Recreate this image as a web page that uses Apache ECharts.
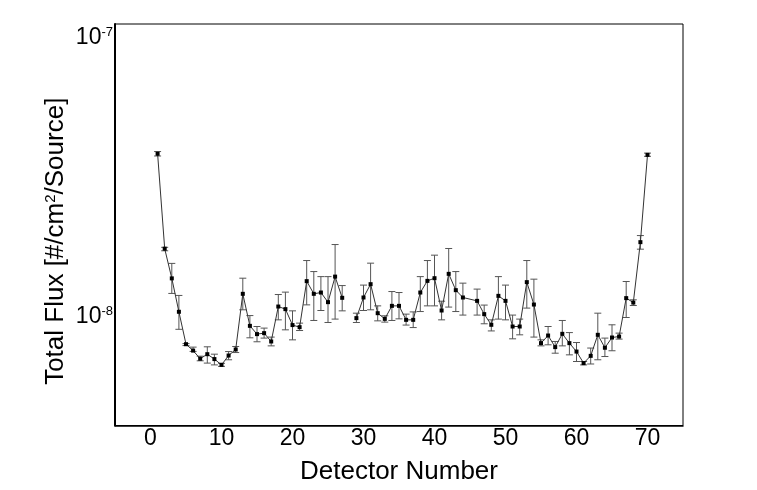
<!DOCTYPE html>
<html><head><meta charset="utf-8">
<script src="https://cdn.jsdelivr.net/npm/echarts@6.0.0/dist/echarts.min.js"></script>
<style>html,body{margin:0;padding:0;background:#fff}#c{width:757px;height:490px}</style>
</head><body><div id="c"></div>
<script>
// ---- data (flux values in units of 1e-8 #/cm^2/Source) ----
const detectors = [1,2,3,4,5,6,7,8,9,10,11,12,13,14,15,16,17,18,19,20,21,22,23,24,25,26,27,28,29,30,31,32,33,34,35,36,37,38,39,40,41,42,43,44,45,46,47,48,49,50,51,52,53,54,55,56,57,58,59,60,61,62,63,64,65,66,67,68,69,70];
const fluxScale = 1e-8;
const flux = [3.83,1.75,1.37,1.04,0.796,0.755,0.706,0.733,0.704,0.671,0.725,0.762,1.206,0.926,0.865,0.872,0.814,1.086,1.063,0.932,0.916,1.339,1.206,1.219,1.126,1.39,1.167,null,0.987,1.17,1.306,1.028,0.981,1.092,1.092,0.973,0.973,1.219,1.342,1.372,1.051,1.422,1.243,1.17,null,1.138,1.02,0.934,1.186,1.138,0.921,0.921,1.328,1.104,0.803,0.855,0.777,0.867,0.803,0.749,0.681,0.723,0.86,0.773,0.841,0.848,1.164,1.122,1.847,3.795];
const fluxHigh = [3.90,1.77,1.55,1.19,0.80,0.777,0.721,0.779,0.733,0.680,0.749,0.781,1.372,1.008,0.921,0.909,0.844,1.199,1.223,1.048,0.947,1.587,1.449,1.39,1.39,1.811,1.291,null,1.028,1.296,1.553,1.092,1.006,1.229,1.219,1.02,1.039,1.39,1.587,1.659,1.135,1.753,1.449,1.317,null,1.254,1.099,0.973,1.39,1.296,1.012,0.979,1.587,1.361,0.825,0.921,0.814,0.968,0.876,0.807,0.690,0.771,1.028,0.837,0.934,0.872,1.335,1.148,1.95,3.85];
const fluxLow = [3.76,1.72,1.21,0.90,0.787,0.750,0.694,0.681,0.671,0.663,0.700,0.743,1.057,0.839,0.812,0.837,0.785,0.973,0.896,0.825,0.891,1.101,0.968,1.051,0.952,0.979,1.048,null,0.952,1.051,1.057,0.965,0.955,0.968,0.981,0.932,0.913,1.042,1.092,1.092,0.973,1.081,1.042,1.012,null,1.012,0.942,0.888,0.979,0.973,0.832,0.86,1.072,0.844,0.785,0.792,0.739,0.785,0.729,0.690,0.671,0.676,0.70,0.719,0.754,0.83,0.992,1.095,1.743,3.75];
const lineBreaks = [28];           // line is interrupted at this missing detector
const xTickValues = [0,10,20,30,40,50,60,70];
const yMin = 4.07e-9, yMax = 1.117e-7;

const FONT = 'Liberation Sans, Arial, sans-serif';
const lineData = [], errData = [];
detectors.forEach((d, i) => {
  if (flux[i] == null) { if (lineBreaks.includes(d)) lineData.push([d, '-']); return; }
  lineData.push([d, flux[i] * fluxScale]);
  errData.push([d, fluxLow[i] * fluxScale, fluxHigh[i] * fluxScale]);
});

const chart = echarts.init(document.getElementById('c'), null, {renderer: 'canvas'});
chart.setOption({
  animation: false,
  backgroundColor: '#fff',
  grid: {left: 115, top: 24, right: 74, bottom: 64.5, containLabel: false, outerBoundsMode: 'none',
         show: true, borderColor: '#000', borderWidth: 1, backgroundColor: 'transparent'},
  xAxis: {
    type: 'value', min: -5, max: 75, interval: 5,
    axisLine: {show: true, onZero: false, lineStyle: {color: '#000', width: 1.5}},
    axisTick: {show: false}, splitLine: {show: false},
    axisLabel: {margin: 2, color: '#000', fontFamily: FONT, fontSize: 23,
      formatter: v => xTickValues.includes(v) ? String(v) : '', showMinLabel: false, showMaxLabel: false},
    name: 'Detector Number', nameLocation: 'middle', nameGap: 33, nameMoveOverlap: false,
    nameTextStyle: {color: '#000', fontFamily: FONT, fontSize: 26}
  },
  yAxis: {
    type: 'log', logBase: 10, min: yMin, max: yMax,
    axisLine: {show: true, onZero: false, lineStyle: {color: '#000', width: 2}},
    axisTick: {show: false}, minorTick: {show: false}, splitLine: {show: false}, minorSplitLine: {show: false},
    axisLabel: {margin: 2, color: '#000', fontFamily: FONT, fontSize: 23, lineHeight: 23,
      showMinLabel: false, showMaxLabel: false,
      formatter: v => {
        const e = v > 0 ? Math.log10(v) : v;
        if (Math.abs(e - Math.round(e)) > 1e-6) return '';
        return '10{sup|' + Math.round(e) + '}';
      },
      rich: {sup: {fontSize: 13, lineHeight: 13, verticalAlign: 'top', color: '#000', fontFamily: FONT}}
    },
    name: 'Total Flux [#/cm{sup|2}/Source]', nameLocation: 'middle', nameRotate: 90, nameGap: 46,
    nameMoveOverlap: false,
    nameTextStyle: {color: '#000', fontFamily: FONT, fontSize: 26, lineHeight: 26, padding: [0, 33, 0, 0],
      rich: {sup: {fontSize: 15, lineHeight: 15, verticalAlign: 'top', color: '#000', fontFamily: FONT}}}
  },
  series: [
    {
      type: 'custom', z: 2, data: errData, encode: {x: 0, y: [1, 2]}, silent: true,
      renderItem: (params, api) => {
        const x = api.value(0);
        const p1 = api.coord([x, api.value(1)]);
        const p2 = api.coord([x, api.value(2)]);
        const hw = 3.5;
        const style = {stroke: '#555', lineWidth: 1, fill: null};
        return {type: 'group', children: [
          {type: 'line', shape: {x1: p1[0], y1: p1[1], x2: p2[0], y2: p2[1]}, style},
          {type: 'line', shape: {x1: p1[0] - hw, y1: p1[1], x2: p1[0] + hw, y2: p1[1]}, style},
          {type: 'line', shape: {x1: p2[0] - hw, y1: p2[1], x2: p2[0] + hw, y2: p2[1]}, style}
        ]};
      }
    },
    {
      type: 'line', z: 3, data: lineData, connectNulls: false, silent: true,
      symbol: 'rect', symbolSize: 4, showSymbol: true,
      itemStyle: {color: '#000'}, lineStyle: {color: '#333', width: 1}
    }
  ]
});
</script></body></html>
